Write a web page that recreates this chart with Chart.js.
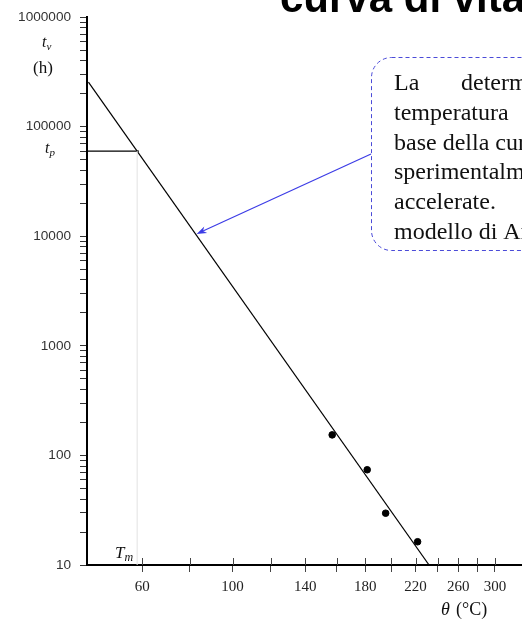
<!DOCTYPE html>
<html>
<head>
<meta charset="utf-8">
<script src="https://cdn.jsdelivr.net/npm/chart.js@4"></script>
<style>
  html, body { margin: 0; padding: 0; background: #fff; }
  #wrap { width: 522px; height: 619px; }
</style>
</head>
<body>
<div id="wrap"><canvas id="chart" width="522" height="619"></canvas></div>
<script>
// Dati (temperature in °C, tempi in ore)
const pointTemps = [157, 181.4, 195.4, 221.8];
const pointHours = [154, 74, 29.7, 16.3];

// Retta di Arrhenius (due estremi)
const lineTemps = [40, 232];
const lineHours = [255000, 10];

// Temperatura massima e tempo previsto
const tmTemp = 58;
const tpHours = 60000;
const tpLineTemps = [30, 58.7];

// Assi
const xMinTemp = 39.5;
const xMaxTemp = 333.5;
const xTickTemps = [60, 80, 100, 120, 140, 160, 180, 200, 220, 240, 260, 280, 300];
const xTickLabels = [60, 100, 140, 180, 220, 260, 300];
const yDecades = [10, 100, 1000, 10000, 100000, 1000000];
const yTickLabels = [10, 100, 1000, 10000, 100000, 1000000];

// Punta della freccia (sulla retta)
const arrowTipTemp = 83;
const arrowTipHours = 10500;

// Testo del riquadro
const boxLines = [
    ['La', 'determinazione della'],
    ['temperatura'],
    ['base della curva di vita'],
    ['sperimentalmente'],
    ['accelerate.'],
    ['modello di Arrhenius']
];

// 1000/K  (scala di Arrhenius)
const inv = (t) => 1000 / (t + 273.15);

const toPoints = (temps, hours) => temps.map((t, i) => ({ x: inv(t), y: hours[i] }));

// Funzione per testo con pedice
const drawSub = (ctx, main, sub, x, y, size) => {
    ctx.font = 'italic ' + size + 'px "Liberation Serif"';
    ctx.fillText(main, x, y);
    const w = ctx.measureText(main).width;
    ctx.font = 'italic ' + Math.round(size * 0.7) + 'px "Liberation Serif"';
    ctx.fillText(sub, x + w, y + 3);
};

const decorPlugin = {
    id: 'decor',
    afterDraw(chart) {
        const ctx = chart.ctx;
        const xs = chart.scales.x;
        const ys = chart.scales.y;
        const area = chart.chartArea;
        ctx.save();

        // tacche interne asse x
        ctx.strokeStyle = '#444';
        ctx.lineWidth = 1;
        xTickTemps.forEach(t => {
            const px = Math.round(xs.getPixelForValue(inv(t))) + 0.5;
            ctx.beginPath();
            ctx.moveTo(px, area.bottom - 7);
            ctx.lineTo(px, area.bottom);
            ctx.stroke();
        });

        ctx.fillStyle = '#111';
        ctx.textBaseline = 'alphabetic';
        ctx.textAlign = 'left';

        // etichette asse y
        drawSub(ctx, 't', 'v', 42, 47, 16);
        ctx.font = '17px "Liberation Serif"';
        ctx.fillText('(h)', 33, 73);
        drawSub(ctx, 't', 'p', 45, 153, 16);

        // T_m
        drawSub(ctx, 'T', 'm', 115, 558, 17);

        // theta (°C)
        ctx.font = 'italic 18px "Liberation Serif"';
        ctx.fillText('θ', 441, 615);
        ctx.font = '18px "Liberation Serif"';
        ctx.fillText('(°C)', 456, 615);

        // titolo
        ctx.font = 'bold 42px "Liberation Sans"';
        ctx.fillStyle = '#000';
        ctx.fillText('curva di vita', 280, 12);

        // riquadro tratteggiato
        ctx.strokeStyle = '#4b4bd8';
        ctx.lineWidth = 1;
        ctx.setLineDash([4, 3]);
        ctx.beginPath();
        ctx.roundRect(371.5, 57.5, 200, 193, 20);
        ctx.stroke();
        ctx.setLineDash([]);

        // testo del riquadro
        ctx.fillStyle = '#111';
        ctx.font = '24px "Liberation Serif"';
        boxLines.forEach((words, i) => {
            const by = 90 + i * 29.8;
            ctx.fillText(words[0], 394, by);
            if (words.length > 1) ctx.fillText(words[1], 461, by);
        });

        // freccia
        const tx = xs.getPixelForValue(inv(arrowTipTemp));
        const ty = ys.getPixelForValue(arrowTipHours);
        const sx = 371, sy = 154;
        const ang = Math.atan2(ty - sy, tx - sx);
        ctx.strokeStyle = '#3c3ce6';
        ctx.fillStyle = '#3c3ce6';
        ctx.lineWidth = 1.2;
        ctx.beginPath();
        ctx.moveTo(sx, sy);
        ctx.lineTo(tx - 7 * Math.cos(ang), ty - 7 * Math.sin(ang));
        ctx.stroke();
        ctx.beginPath();
        ctx.moveTo(tx, ty);
        ctx.lineTo(tx - 10 * Math.cos(ang) + 3.5 * Math.sin(ang), ty - 10 * Math.sin(ang) - 3.5 * Math.cos(ang));
        ctx.lineTo(tx - 7 * Math.cos(ang), ty - 7 * Math.sin(ang));
        ctx.lineTo(tx - 10 * Math.cos(ang) - 3.5 * Math.sin(ang), ty - 10 * Math.sin(ang) + 3.5 * Math.cos(ang));
        ctx.closePath();
        ctx.fill();

        ctx.restore();
    }
};

const yTicks = [];
yDecades.forEach((d, i) => {
    if (i === yDecades.length - 1) { yTicks.push(d); return; }
    for (let m = 1; m <= 9; m++) yTicks.push(d * m);
});

const ctx = document.getElementById('chart').getContext('2d');
const chart = new Chart(ctx, {
    type: 'scatter',
    data: {
        datasets: [
            {
                data: [{ x: inv(tmTemp), y: 10 }, { x: inv(tmTemp), y: tpHours }],
                showLine: true,
                borderColor: '#e2e2e2',
                borderWidth: 1,
                pointRadius: 0
            },
            {
                data: toPoints(tpLineTemps, [tpHours, tpHours]),
                showLine: true,
                borderColor: '#000',
                borderWidth: 1.2,
                pointRadius: 0
            },
            {
                data: toPoints(lineTemps, lineHours),
                showLine: true,
                borderColor: '#000',
                borderWidth: 1.2,
                pointRadius: 0
            },
            {
                data: toPoints(pointTemps, pointHours),
                showLine: false,
                backgroundColor: '#000',
                borderColor: '#000',
                pointRadius: 3.3
            }
        ]
    },
    options: {
        responsive: false,
        animation: false,
        layout: { autoPadding: false, padding: { top: 14, left: 0, right: 0, bottom: 0 } },
        plugins: {
            legend: { display: false },
            tooltip: { enabled: false }
        },
        scales: {
            x: {
                type: 'linear',
                reverse: true,
                min: inv(xMaxTemp),
                max: inv(xMinTemp),
                afterBuildTicks: (axis) => {
                    axis.ticks = xTickTemps.map(t => ({ value: inv(t) }));
                },
                afterFit: (axis) => { axis.height = 54; },
                ticks: {
                    autoSkip: false,
                    maxRotation: 0,
                    padding: 6,
                    color: '#222',
                    font: { family: 'Liberation Serif', size: 15 },
                    callback: (value) => {
                        const t = Math.round(1000 / value - 273.15);
                        return xTickLabels.includes(t) ? String(t) : '';
                    }
                },
                grid: { drawOnChartArea: false, tickLength: 7, color: '#444' },
                border: { color: '#000', width: 2 }
            },
            y: {
                type: 'logarithmic',
                min: 10,
                max: 1000000,
                afterBuildTicks: (axis) => {
                    axis.ticks = yTicks.map(v => ({ value: v }));
                },
                afterFit: (axis) => { axis.width = 87; },
                ticks: {
                    autoSkip: false,
                    padding: 9,
                    color: '#333',
                    font: { family: 'Liberation Sans', size: 13.6 },
                    callback: (value) => yTickLabels.includes(value) ? String(value) : ''
                },
                grid: { drawOnChartArea: false, tickLength: 7, color: '#333' },
                border: { color: '#000', width: 2 }
            }
        }
    },
    plugins: [decorPlugin]
});
</script>
</body>
</html>
